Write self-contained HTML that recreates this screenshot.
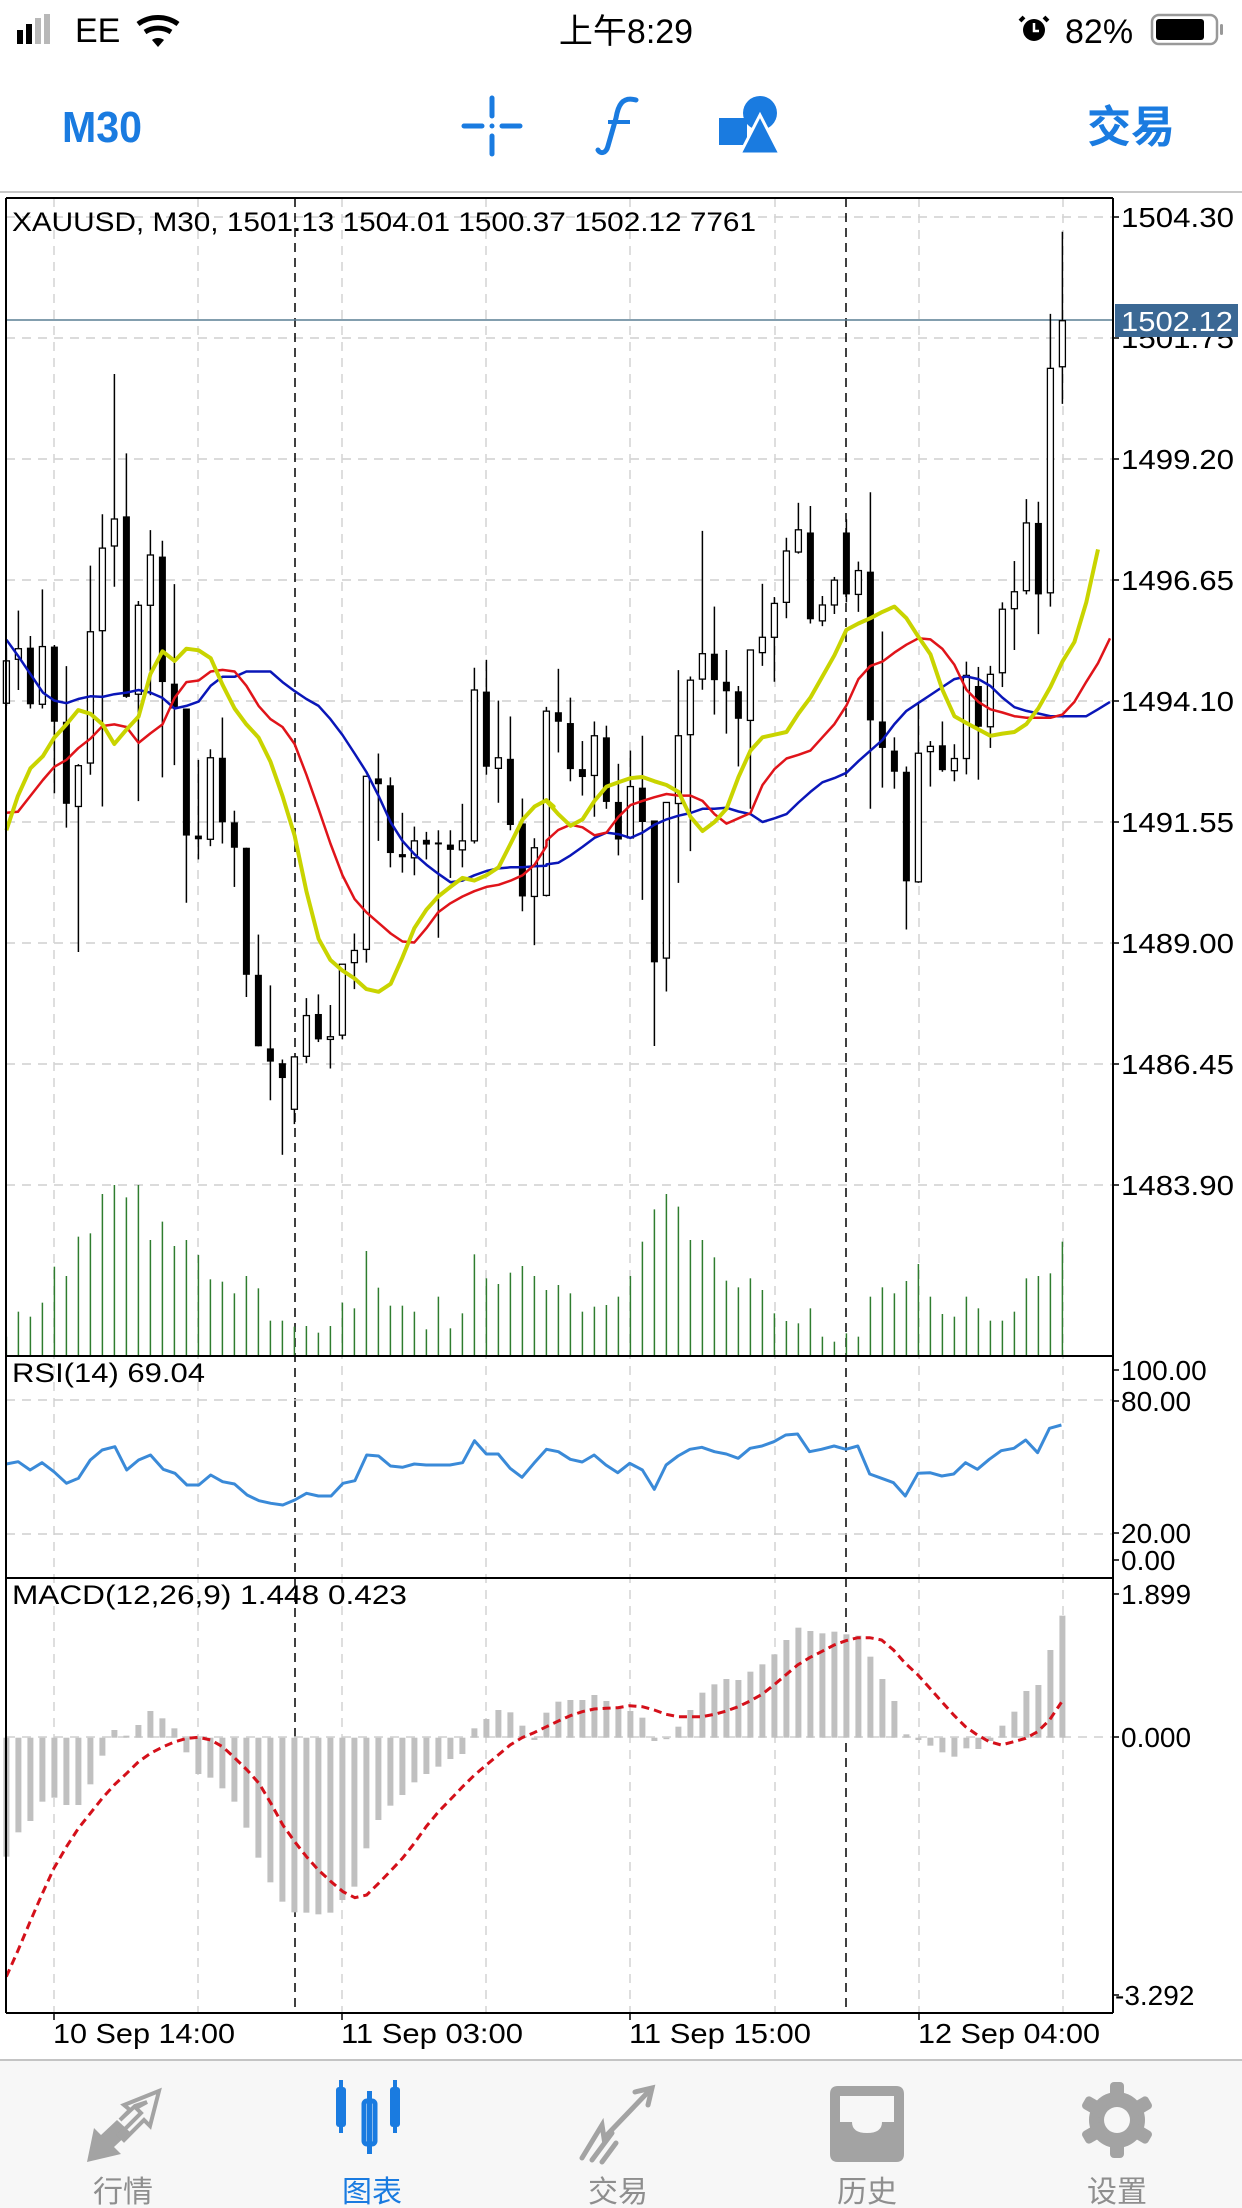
<!DOCTYPE html>
<html><head><meta charset="utf-8">
<style>
html,body{margin:0;padding:0;background:#fff;width:1242px;height:2208px;overflow:hidden}
svg{display:block}
text{font-family:"Liberation Sans","Noto Sans CJK SC",sans-serif}
</style></head>
<body>
<svg id="s" width="1242" height="2208" viewBox="0 0 1242 2208" xmlns="http://www.w3.org/2000/svg">
<rect x="0" y="0" width="1242" height="2208" fill="#fff"/>
<!-- status bar -->
<rect x="17" y="30" width="6" height="14" fill="#000"/>
<rect x="26" y="24" width="6" height="20" fill="#000"/>
<rect x="35" y="18" width="6" height="26" fill="#b8b8b8"/>
<rect x="44" y="14" width="6" height="30" fill="#b8b8b8"/>
<text x="75" y="42" font-size="34" fill="#000">EE</text>
<path d="M138 24 A34 34 0 0 1 178 24" stroke="#000" stroke-width="5" fill="none"/>
<path d="M145 32 A24 24 0 0 1 171 32" stroke="#000" stroke-width="5" fill="none"/>
<path d="M152 40 L158 47 L164 40 A10 10 0 0 0 152 40Z" fill="#000"/>
<text x="626" y="43" font-size="34" text-anchor="middle" fill="#000">上午8:29</text>
<circle cx="1034" cy="30" r="11" fill="#000"/>
<path d="M1024 17 l-4 4 M1044 17 l4 4" stroke="#000" stroke-width="4"/>
<path d="M1034 23 v8 h5" stroke="#fff" stroke-width="2.5" fill="none"/>
<text x="1065" y="43" font-size="34" fill="#000">82%</text>
<rect x="1152" y="15" width="65" height="29" rx="7" fill="none" stroke="#999" stroke-width="2.5"/>
<rect x="1156" y="19" width="48" height="21" rx="3" fill="#000"/>
<rect x="1220" y="24" width="3" height="11" rx="1.5" fill="#999"/>
<!-- header -->
<text x="62" y="142" font-size="44" font-weight="bold" fill="#1a7be0" textLength="80" lengthAdjust="spacingAndGlyphs">M30</text>
<g stroke="#1a7be0" stroke-width="5" stroke-linecap="round">
<line x1="492" y1="98" x2="492" y2="116"/><line x1="492" y1="136" x2="492" y2="154"/>
<line x1="464" y1="126" x2="482" y2="126"/><line x1="502" y1="126" x2="520" y2="126"/>
</g>
<circle cx="492" cy="126" r="2.5" fill="#1a7be0"/>
<path d="M636 100 C622 96 618 106 616 118 L608 146 C606 154 600 154 598 150" stroke="#1a7be0" stroke-width="5" fill="none" stroke-linecap="round"/>
<line x1="608" y1="122" x2="630" y2="122" stroke="#1a7be0" stroke-width="4"/>
<rect x="719" y="118" width="28" height="27" fill="#1a7be0"/>
<circle cx="760" cy="113" r="17" fill="#1a7be0"/>
<path d="M760 115 L780 154 L740 154Z" fill="#1a7be0" stroke="#fff" stroke-width="3"/>
<text x="1087" y="142" font-size="44" font-weight="bold" fill="#1a7be0">交易</text>
<line x1="0" y1="192" x2="1242" y2="192" stroke="#c8c8c8" stroke-width="2"/>
<g id="chart"></g>
<!-- tab bar -->
<rect x="0" y="2060" width="1242" height="148" fill="#f7f7f7"/>
<line x1="0" y1="2060" x2="1242" y2="2060" stroke="#c4c4c4" stroke-width="2"/>
<g fill="#a3a3a3">
<path d="M87 2162 L94 2128 L101 2135 L117 2120 L130 2132 L114 2147 L121 2154Z"/>
<path d="M120 2120 L130 2110 L124 2105 L159 2091 L150 2126 L144 2120 L124 2140 L119 2135 L141 2113 L136 2108 L147 2102 L135 2106Z" fill="none" stroke="#a3a3a3" stroke-width="4"/>
</g>
<g fill="#1a7be0">
<rect x="336" y="2087" width="10" height="40" rx="3"/><rect x="339" y="2080" width="4" height="53"/>
<rect x="390" y="2087" width="10" height="40" rx="3"/><rect x="393" y="2080" width="4" height="53"/>
<rect x="364" y="2101" width="11" height="43" rx="3" fill="none" stroke="#1a7be0" stroke-width="5"/><rect x="367" y="2091" width="5" height="63"/>
</g>
<g stroke="#a3a3a3" stroke-width="5" fill="none" stroke-linecap="round">
<path d="M582 2158 L602 2125 L604 2138 L650 2090"/><path d="M635 2092 L652 2088 L648 2105"/>
<path d="M592 2160 L612 2133"/><path d="M602 2162 L616 2143"/>
</g>
<path d="M830 2094 Q830 2086 838 2086 L896 2086 Q904 2086 904 2094 L904 2154 Q904 2162 896 2162 L838 2162 Q830 2162 830 2154Z M840 2096 L840 2122 L852 2122 Q852 2133 867 2133 Q882 2133 882 2122 L894 2122 L894 2096Z" fill="#a3a3a3" fill-rule="evenodd"/>
<g transform="translate(1117,2120)">
<circle r="28" fill="#a3a3a3"/>
<g fill="#a3a3a3"><rect x="-7" y="-38" width="14" height="76" rx="4"/><rect x="-7" y="-38" width="14" height="76" rx="4" transform="rotate(60)"/><rect x="-7" y="-38" width="14" height="76" rx="4" transform="rotate(120)"/></g>
<circle r="13" fill="#f7f7f7"/>
</g>
<g font-size="30" text-anchor="middle" fill="#8e8e8e">
<text x="123" y="2202">行情</text>
<text x="372" y="2202" fill="#1a7be0">图表</text>
<text x="618" y="2202">交易</text>
<text x="867" y="2202">历史</text>
<text x="1117" y="2202">设置</text>
</g>
</svg>
<script>
(function(){
var o=[];
function L(x1,y1,x2,y2,c,w,d){o.push('<line x1="'+x1+'" y1="'+y1+'" x2="'+x2+'" y2="'+y2+'" stroke="'+c+'" stroke-width="'+w+'"'+(d?' stroke-dasharray="'+d+'"':'')+'/>');}
function T(x,y,s,fs,extra){o.push('<text x="'+x+'" y="'+y+'" font-size="'+fs+'" fill="#000" '+(extra||'')+'>'+s+'</text>');}
var X0=6,X1=1113,TOP=198;
// horizontal grid main
var lv=["1504.30","1501.75","1499.20","1496.65","1494.10","1491.55","1489.00","1486.45","1483.90"];
for(var i=0;i<9;i++){var y=217+i*121;L(X0,y,X1,y,"#cfcfcf",1.5,"9,7");L(X1,y,X1+6,y,"#000",1.5);T(1121,y+10,lv[i],28,'textLength="113" lengthAdjust="spacingAndGlyphs"');}
// vertical grid
[54,198,342,486,630,775,919,1063].forEach(function(x){L(x,TOP,x,2013,"#d4d4d4",1.5,"9,7");});
[295,846].forEach(function(x){L(x,TOP,x,2013,"#000",1.5,"9,6");});
// rsi grid
L(X0,1400,X1,1400,"#cfcfcf",1.5,"9,7");L(X0,1534,X1,1534,"#cfcfcf",1.5,"9,7");
L(X0,1737,X1,1737,"#cfcfcf",1.5,"9,7");
// volume
var vol=[500,425,440,398,290,318,200,190,72,45,82,45,210,155,228,210,255,328,335,370,318,355,452,452,470,468,488,468,398,415,243,353,407,407,425,478,380,475,430,253,325,342,308,288,318,360,345,370,425,410,405,380,318,215,118,72,110,210,210,262,332,352,325,360,430,453,460,415,500,515,490,500,380,352,370,333,282,380,432,440,380,415,452,452,425,325,318,310,215];
function bx(i){return 6.4+12*i;}
var n=89,off=n-vol.length;
vol.forEach(function(v,i){var x=bx(i+off);L(x,1170+v/3,x,1356,"#2f7d2f",1.5);});
// candles
var A=[['w',625,705,600,710],['w',602,622,530,680],['b',600,707,578,715],['w',598,707,490,715],['b',598,740,595,875],['b',740,895,635,940],['w',823,900,820,1175],['w',570,818,445,840],['w',412,568,348,900],['w',357,408,83,485],['b',352,693,233,695],['w',520,688,512,890],['w',425,520,378,690],['b',428,665,398,845],['b',668,715,480,822],['b',715,955,715,1082],['b',955,962,812,1000],['w',808,962,792,975],['b',808,930,732,970],['b',930,978,908,1052],['b',978,1218,978,1260],['b',1218,1353,1142,1353],['b',1357,1382,1238,1455],['b',1385,1413,1378,1558],['w',1373,1472,1373,1500],['w',1295,1372,1262,1385],['b',1292,1340,1255,1345],['w',1335,1340,1275,1395],['w',1198,1332,1198,1340],['w',1172,1195,1140,1245],['w',843,1170,843,1195],['b',847,858,800,965],['b',860,988,845,1015],['b',990,996,912,1025],['w',965,997,938,1030],['b',963,972,948,1000],['b',968,970,945,1148],['b',972,982,945,1035],['w',965,982,895,1015],['w',680,965,638,970],['b',683,825,623,840],['w',808,828,700,893],['b',810,935,730,945],['b',932,1070,885,1098],['w',978,1070,960,1162],['w',720,1068,712,1070],['b',722,740,640,798]];
var B=[['b',988,1075,940,1098],['b',1075,1090,1022,1125],['w',1012,1087,985,1165],['b',1015,1137,993,1150],['b',1137,1208,1065,1238],['w',1108,1205,1040,1205],['b',1110,1175,1012,1322],['b',1172,1440,1172,1598],['w',1138,1432,1138,1495],['w',1012,1140,888,1290],['w',907,1010,900,1230],['w',857,905,625,925],['b',857,907,768,972],['b',910,928,850,1008],['b',928,980,918,1070],['w',850,983,850,1150],['w',826,855,725,880],['w',762,826,750,910],['w',663,760,638,790],['w',623,665,572,668],['b',628,792,578,800],['w',765,795,748,805],['w',718,765,712,782],['b',628,745,603,760],['w',700,745,683,778],['b',702,983,552,1150],['b',985,1035,815,1110],['b',1040,1080,1015,1112],['b',1080,1287,1070,1378],['w',1045,1288,950,1290],['w',1032,1042,1022,1108],['b',1030,1077,985,1080],['w',1055,1078,1028,1098],['w',898,1055,872,1085],['b',918,995,882,1095],['w',896,995,880,1035],['w',773,893,760,920],['w',740,772,682,850],['w',610,738,565,745],['b',610,745,570,820],['w',318,742,215,768],['w',228,315,60,385]];
function drawC(c,i,base){var x=bx(i),k=0.5294;var t=base+c[1]*k,b=base+c[2]*k,h=base+c[3]*k,l=base+c[4]*k;
 L(x,h,x,l,"#000",1.5);var hh=Math.max(b-t,2);
 if(c[0]=='b')o.push('<rect x="'+(x-3.5)+'" y="'+t+'" width="7" height="'+hh+'" fill="#000"/>');
 else o.push('<rect x="'+(x-3)+'" y="'+t+'" width="6" height="'+hh+'" fill="#fff" stroke="#000" stroke-width="1.3"/>');}
// MA lines
function PL(pts,fx,fy,c,w){var s=pts.map(function(p){return (fx(p[0])).toFixed(1)+','+(fy(p[1])).toFixed(1);}).join(' ');o.push('<polyline points="'+s+'" fill="none" stroke="'+c+'" stroke-width="'+w+'" stroke-linejoin="round"/>');}
var z3x=function(v){return v/2.8},z3y=function(v){return 330+v*0.5294},z4x=function(v){return 540+v/2.751},z4y=function(v){return 200+v*0.5294};
var Y3=[[18,945],[50,880],[85,828],[120,805],[152,770],[186,745],[219,718],[253,725],[287,745],[320,782],[354,755],[388,730],[421,650],[455,607],[489,625],[522,602],[556,605],[590,620],[623,670],[657,715],[690,745],[724,770],[757,815],[791,880],[825,955],[858,1060],[892,1150],[925,1190],[959,1210],[993,1225],[1026,1245],[1060,1250],[1094,1235],[1127,1185],[1160,1130],[1194,1095],[1227,1070],[1261,1052],[1295,1035],[1328,1040],[1362,1030],[1396,1015],[1430,970],[1463,925],[1497,900],[1530,888],[1550,900]];
var Y4=[[18,1135],[50,1160],[84,1182],[117,1170],[150,1135],[183,1108],[216,1100],[249,1092],[282,1090],[315,1098],[348,1105],[381,1118],[414,1165],[447,1192],[480,1175],[513,1150],[546,1090],[579,1040],[612,1015],[645,1010],[678,1005],[711,970],[744,940],[777,900],[810,860],[843,812],[876,800],[909,790],[942,778],[975,768],[1008,790],[1041,825],[1074,858],[1107,925],[1140,975],[1173,988],[1206,1000],[1239,1012],[1272,1008],[1305,1005],[1338,990],[1371,960],[1404,920],[1437,872],[1470,835],[1503,760],[1535,660]];
var R3=[[18,912],[50,910],[85,880],[120,850],[152,825],[186,812],[219,790],[253,772],[287,748],[320,745],[354,750],[388,780],[421,762],[455,745],[489,695],[522,665],[556,662],[590,645],[623,642],[657,645],[690,672],[724,710],[757,735],[791,750],[825,782],[858,840],[892,905],[925,970],[959,1030],[993,1075],[1026,1100],[1060,1120],[1094,1140],[1127,1155],[1160,1157],[1194,1130],[1227,1100],[1261,1083],[1295,1070],[1328,1060],[1362,1052],[1396,1048],[1430,1040],[1463,1030],[1497,1010],[1530,975]];
var R4=[[18,1210],[50,1190],[84,1180],[117,1185],[150,1200],[183,1195],[216,1165],[249,1143],[282,1135],[315,1128],[348,1122],[381,1125],[414,1125],[447,1135],[480,1160],[513,1178],[546,1168],[579,1158],[612,1105],[645,1075],[678,1055],[711,1048],[744,1040],[777,1015],[810,990],[843,955],[876,905],[909,880],[942,872],[975,855],[1008,840],[1041,828],[1074,830],[1107,848],[1140,878],[1173,925],[1206,948],[1239,962],[1272,968],[1305,975],[1338,978],[1371,978],[1404,978],[1437,972],[1470,948],[1503,910],[1535,875],[1568,828]];
var U3=[[18,585],[50,615],[85,650],[120,685],[152,700],[186,705],[219,697],[253,692],[287,693],[320,688],[354,685],[388,680],[421,685],[455,695],[489,715],[522,710],[556,702],[590,672],[623,655],[657,655],[690,645],[724,645],[757,645],[791,665],[825,682],[858,697],[892,710],[925,735],[959,765],[993,800],[1026,835],[1060,880],[1094,930],[1127,965],[1160,990],[1194,1010],[1227,1027],[1261,1043],[1295,1040],[1328,1030],[1362,1022],[1396,1017],[1430,1015],[1463,1015],[1497,1013],[1530,1012]];
var U4=[[18,1255],[50,1252],[84,1238],[117,1222],[150,1205],[183,1195],[216,1198],[249,1205],[282,1195],[315,1180],[348,1170],[381,1163],[414,1158],[447,1150],[480,1150],[513,1148],[546,1155],[579,1160],[612,1175],[645,1168],[678,1160],[711,1138],[744,1118],[777,1100],[810,1092],[843,1082],[876,1060],[909,1040],[942,1020],[975,990],[1008,965],[1041,950],[1074,935],[1107,920],[1140,905],[1173,900],[1206,905],[1239,918],[1272,940],[1305,958],[1338,965],[1371,970],[1404,975],[1437,975],[1470,975],[1503,975],[1535,962],[1568,948]];
function merge(a,b){return a.map(function(p){return [z3x(p[0]),z3y(p[1])];}).concat(b.map(function(p){return [z4x(p[0]),z4y(p[1])];}));}
var id=function(v){return v};
// current price line
L(X0,320,X1,320,"#5a7f93",1.5);
A.forEach(function(c,i){drawC(c,i,330);});
B.forEach(function(c,i){drawC(c,47+i,200);});
PL(merge(U3,U4),id,id,"#0a16b8",2.5);
PL(merge(R3,R4),id,id,"#e0141a",2.5);
PL(merge(Y3,Y4),id,id,"#c9d400",4);
// RSI
var rsi=[[8,882],[23,875],[38,900],[53,878],[68,905],[84,940],[99,925],[114,870],[129,840],[145,830],[160,900],[175,870],[190,855],[206,898],[221,910],[236,945],[251,945],[266,915],[281,935],[296,942],[312,975],[327,992],[342,1000],[357,1005],[372,990],[387,970],[402,978],[418,978],[433,940],[448,932],[463,855],[478,858],[493,888],[508,892],[523,882],[538,885],[553,885],[568,885],[584,878],[599,812],[614,852],[629,852],[644,895],[659,922],[674,880],[690,838],[705,845],[720,868],[735,876],[750,855],[765,885],[780,908],[795,880],[811,900],[826,958],[841,885],[856,858],[871,838],[886,832],[902,845],[917,852],[932,865],[947,835],[962,828],[977,815],[992,795],[1007,792],[1022,845],[1037,838],[1053,828],[1068,838],[1083,828],[1098,912],[1113,925],[1128,938],[1143,978],[1159,910],[1174,908],[1189,918],[1204,912],[1219,878],[1234,898],[1249,868],[1264,842],[1280,835],[1295,810],[1310,848],[1325,775],[1340,765]];
PL(rsi,function(v){return v/1.2625},function(v){return 1170+v/3},"#3a8ad8",3);
// MACD hist
var mh=[845,772,738,680,668,690,690,628,542,465,482,450,408,430,460,532,597,608,640,680,758,848,922,980,1012,1013,1018,1013,975,935,820,735,692,660,622,597,575,552,537,460,432,405,412,452,495,413,380,375,375,360,378,395,408,428,498,488,455,405,353,328,312,315,290,268,238,195,158,168,175,170,178,182,245,312,378,478,495,512,532,545,520,522,498,452,410,348,330,225,122];
var mo=n-mh.length;
mh.forEach(function(v,i){var x=bx(i+mo),y=1575+v/3,z=1737.7;var t=Math.min(y,z),h=Math.max(Math.abs(y-z),1.5);o.push('<rect x="'+(x-3)+'" y="'+t+'" width="6" height="'+h+'" fill="#c0c0c0"/>');});
var sig=[[8,1205],[23,1125],[38,1040],[53,958],[68,880],[84,815],[99,760],[114,715],[129,670],[145,628],[160,595],[175,560],[190,535],[206,515],[221,500],[236,490],[251,487],[266,495],[281,515],[296,548],[312,585],[327,625],[342,685],[357,750],[372,800],[387,845],[402,885],[418,920],[433,950],[448,968],[463,960],[478,925],[493,888],[508,850],[523,805],[538,755],[553,712],[568,675],[584,635],[599,600],[614,570],[629,540],[644,510],[659,488],[674,473],[690,455],[705,438],[720,422],[735,410],[750,402],[765,400],[780,398],[795,392],[811,395],[826,405],[841,418],[856,425],[871,425],[886,425],[902,418],[917,408],[932,395],[947,378],[962,358],[977,330],[992,300],[1007,270],[1022,248],[1037,230],[1053,210],[1068,197],[1083,188],[1098,188],[1113,195],[1128,225],[1143,265],[1159,300],[1174,340],[1189,380],[1204,420],[1219,455],[1234,480],[1249,500],[1264,510],[1280,500],[1295,490],[1310,470],[1325,435],[1340,382]];
var s=sig.map(function(p){return (p[0]/1.2625).toFixed(1)+','+(1575+p[1]/3).toFixed(1);}).join(' ');
o.push('<polyline points="'+s+'" fill="none" stroke="#d4101a" stroke-width="3" stroke-dasharray="8,5"/>');
// cover area outside chart on right
o.push('<rect x="'+(X1+1)+'" y="'+(TOP-3)+'" width="'+(1242-X1)+'" height="1830" fill="#fff"/>');
// panel borders
L(X0,TOP,X1,TOP,"#000",2);L(X0,1356,X1,1356,"#000",2);L(X0,1578,X1,1578,"#000",2);L(X0,2013,X1,2013,"#000",2);
L(X0,TOP,X0,2013,"#000",2);L(X1,TOP,X1,2013,"#000",2);
// right labels
var lbl=[[1370,"100.00"],[1401,"80.00"],[1533,"20.00"],[1560,"0.00"],[1594,"1.899"],[1737,"0.000"],[1995,"-3.292"]];
lbl.forEach(function(a){L(X1,a[0],X1+6,a[0],"#000",1.5);T(a[1].charAt(0)=='-'?1115:1121,a[0]+10,a[1],28);});
// re-draw price ticks & labels (covered)
for(var i=0;i<9;i++){var y=217+i*121;L(X1,y,X1+6,y,"#000",1.5);if(i!=1)T(1121,y+10,lv[i],28,'textLength="113" lengthAdjust="spacingAndGlyphs"');}
T(1121,348,lv[1],28,'textLength="113" lengthAdjust="spacingAndGlyphs"');
o.push('<rect x="1115" y="304" width="123" height="33" fill="#3b6894"/>');
o.push('<text x="1121" y="331" font-size="28" fill="#fff" textLength="112" lengthAdjust="spacingAndGlyphs">1502.12</text>');
// titles
T(12,231,"XAUUSD, M30, 1501.13 1504.01 1500.37 1502.12 7761",27,'textLength="744" lengthAdjust="spacingAndGlyphs"');
T(12,1382,"RSI(14) 69.04",27,'textLength="193" lengthAdjust="spacingAndGlyphs"');
T(12,1604,"MACD(12,26,9) 1.448 0.423",27,'textLength="395" lengthAdjust="spacingAndGlyphs"');
// dates
[[54,"10 Sep 14:00"],[342,"11 Sep 03:00"],[630,"11 Sep 15:00"],[919,"12 Sep 04:00"]].forEach(function(a){L(a[0],2013,a[0],2020,"#000",1.5);T(a[0]-1,2043,a[1],28,'textLength="182" lengthAdjust="spacingAndGlyphs"');});
document.getElementById('chart').innerHTML=o.join('');
})();
</script>
</body></html>
